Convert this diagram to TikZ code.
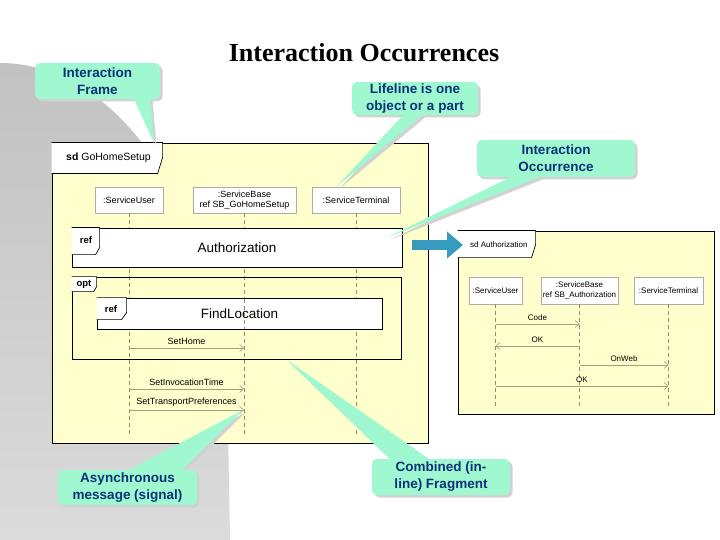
\documentclass[tikz,border=0pt]{standalone}
\usepackage{fontspec}
\setmainfont{Liberation Sans}
\newfontfamily\serifb{Liberation Serif}
\usetikzlibrary{arrows.meta,shadows}
\definecolor{mint}{RGB}{160,248,208}
\definecolor{navy}{RGB}{12,50,120}
\definecolor{umlyellow}{RGB}{255,255,206}
\definecolor{lifec}{RGB}{150,142,105}
\definecolor{msgc}{RGB}{160,160,130}
\definecolor{arrowblue}{RGB}{55,155,190}
\newcommand\ptrshadow[3]{\fill[gray!35] ([xshift=2.5pt,yshift=-2.5pt]#1) -- ([xshift=2.5pt,yshift=-2.5pt]#2) -- ([xshift=2.5pt,yshift=-2.5pt]#3) -- cycle;}
\newcommand\ptrfill[3]{\fill[mint] (#1) -- (#2) -- (#3) -- cycle;}
\tikzset{
  callout/.style={fill=mint, rounded corners=5pt, align=center, text=navy,
    font=\fontsize{13.5}{17}\selectfont\bfseries, inner sep=0pt,
    general shadow={fill=gray!35, shadow xshift=2.5pt, shadow yshift=-2.5pt}},
  umlframe/.style={draw=black, line width=0.8pt, fill=umlyellow, inner sep=0pt},
  refbox/.style={draw=black, line width=0.8pt, fill=white, inner sep=0pt,
    font=\fontsize{13.5}{16}\selectfont,
    general shadow={fill=black!70, shadow xshift=1.3pt, shadow yshift=-1.3pt}},
  optbox/.style={draw=black, line width=0.8pt, inner sep=0pt},
  tabshape/.style={draw=black, line width=0.7pt, fill=white},
  tablabel/.style={inner sep=0pt, font=\fontsize{9.5}{11}\selectfont\bfseries},
  lbox/.style={draw=gray!65, fill=white, line width=0.5pt, align=center,
    font=\fontsize{9}{10.5}\selectfont, inner sep=0pt},
  lboxs/.style={lbox, font=\fontsize{8}{9.5}\selectfont},
  lifeline/.style={draw=lifec, dash pattern=on 4pt off 3pt, line width=0.6pt},
  msg/.style={draw=msgc, line width=0.6pt, -{Straight Barb[length=4pt,width=7pt]}},
  msglabel/.style={inner sep=1.5pt, font=\fontsize{9}{10}\selectfont},
  msglabels/.style={inner sep=1.5pt, font=\fontsize{8}{9}\selectfont},
  bigarrow/.style={draw=arrowblue, line width=10pt, -{Triangle[length=16pt,width=26pt]}},
}
\begin{document}
\begin{tikzpicture}[x=1pt,y=-1pt]
\useasboundingbox (0,0) rectangle (720,540);
\fill[white] (0,0) rectangle (720,540);
% grey background shape
\shade[top color=gray!48, bottom color=gray!28]
  (0,63) .. controls (126,63) and (228,227) .. (228,430) -- (230,540) -- (0,540) -- cycle;

% title
\node[inner sep=0pt, font=\serifb\bfseries\fontsize{26}{30}\selectfont] (title) at (364,53) {Interaction Occurrences};

% ===== main frame sd GoHomeSetup =====
\node[umlframe, minimum width=376pt, minimum height=300pt,
  general shadow={fill=black!70, shadow xshift=1.3pt, shadow yshift=-1.3pt}] (main) at (240,293) {};
\draw[tabshape] (main.north west) -- ++(111,0) -- ++(0,15) -- ++(-5,16) -- ++(-106,0);
\node[anchor=west, inner sep=0pt, font=\fontsize{10.5}{12}\selectfont] (maintab) at (66,158) {\textbf{sd} GoHomeSetup};

% lifeline heads
\node[lbox, minimum width=68pt, minimum height=26pt] (su) at (129,200) {:ServiceUser};
\node[lbox, minimum width=103pt, minimum height=26pt] (sb) at (244.5,200) {:ServiceBase\\ref SB\_GoHomeSetup};
\node[lbox, minimum width=88pt, minimum height=26pt] (st) at (356,200) {:ServiceTerminal};

\coordinate (suend) at (129,435);
\coordinate (sbend) at (244,435);
\coordinate (stend) at (356,435);
\draw[lifeline] (su.south) -- (suend);
\draw[lifeline] ([xshift=-0.5pt]sb.south) -- (sbend);
\draw[lifeline] (st.south) -- (stend);

% ref Authorization
\node[refbox, minimum width=330pt, minimum height=39pt] (authref) at (237,247.5) {Authorization};
\draw[tabshape] (authref.north west) -- ++(28,0) -- ++(0,20) -- ++(-4,7) -- ++(-24,0);
\node[tablabel] (authtab) at (86,240) {ref};

% opt fragment
\node[optbox, minimum width=329pt, minimum height=82pt] (optf) at (236.5,318) {};
\draw[tabshape] (optf.north west) -- ++(25,0) -- ++(0,10) -- ++(-3,5) -- ++(-22,0);
\node[tablabel] (opttab) at (84,284.5) {opt};

% ref FindLocation
\node[refbox, minimum width=285pt, minimum height=31pt] (findref) at (239.5,313.5) {FindLocation};
\draw[tabshape] (findref.north west) -- ++(30,0) -- ++(0,15) -- ++(-5,7) -- ++(-25,0);
\node[tablabel] (findtab) at (111,309) {ref};
\draw[lifeline] (244,298.5) -- (244,328.5);

% messages
\draw[msg] (129,348) -- node[msglabel, above=2pt] {SetHome} (244,348);
\draw[msg] (129,389) -- node[msglabel, above=2pt] {SetInvocationTime} (244,389);
\draw[msg] (129,410) -- node[msglabel, above=2pt] {SetTransportPreferences} (244,410);

% ===== right frame sd Authorization =====
\node[umlframe, minimum width=256pt, minimum height=183pt] (rf) at (586,322.5) {};
\draw[tabshape] (rf.north west) -- ++(78,0) -- ++(0,14) -- ++(-4,13) -- ++(-74,0);
\node[anchor=west, inner sep=0pt, font=\fontsize{8}{10}\selectfont] (rftab) at (470,245) {sd Authorization};

\node[lboxs, minimum width=53pt, minimum height=27pt] (su2) at (495.5,290.5) {:ServiceUser};
\node[lboxs, minimum width=77pt, minimum height=27pt] (sb2) at (579.5,290.5) {:ServiceBase\\ref SB\_Authorization};
\node[lboxs, minimum width=69pt, minimum height=27pt] (st2) at (668.5,290.5) {:ServiceTerminal};
\coordinate (su2end) at (495.5,408);
\coordinate (sb2end) at (579.5,408);
\coordinate (st2end) at (668.5,408);
\draw[lifeline] (su2.south) -- (su2end);
\draw[lifeline] (sb2.south) -- (sb2end);
\draw[lifeline] (st2.south) -- (st2end);

\draw[msg] (495.5,324) -- node[msglabels, above=2pt] {Code} (579.5,324);
\draw[msg] (579.5,346) -- node[msglabels, above=2pt] {OK} (495.5,346);
\draw[msg] (579.5,365) -- node[msglabels, above=2pt] {OnWeb} (668.5,365);
\draw[msg] (495.5,386) -- node[msglabels, above=2pt] {OK} (668.5,386);

% big blue arrow
\coordinate (ba) at (412,245);
\coordinate (bt) at (463,245);
\draw[bigarrow] (ba) -- (bt);

% ===== callouts =====
\coordinate (t1) at (154,143); \coordinate (a1) at (133,97); \coordinate (b1) at (150,97);
\coordinate (t2) at (336,187); \coordinate (a2) at (405,113); \coordinate (b2) at (425,113);
\coordinate (t3) at (386,238); \coordinate (a3) at (515,175); \coordinate (b3) at (545,175);
\coordinate (t4) at (243,410); \coordinate (a4) at (125,472); \coordinate (b4) at (180,472);
\coordinate (t5) at (287,360); \coordinate (a5) at (392,461); \coordinate (b5) at (432,461);

\ptrshadow{t1}{a1}{b1}
\ptrshadow{t2}{a2}{b2}
\ptrshadow{t3}{a3}{b3}
\ptrshadow{t4}{a4}{b4}
\ptrshadow{t5}{a5}{b5}

\node[callout, minimum width=125pt, minimum height=36pt] (c1) at (97.5,81) {Interaction\\Frame};
\node[callout, minimum width=126pt, minimum height=33pt] (c2) at (415,98.5) {Lifeline is one\\object or a part};
\node[callout, minimum width=158pt, minimum height=37pt] (c3) at (556,158.5) {Interaction\\Occurrence};
\node[callout, minimum width=139pt, minimum height=35pt] (c4) at (127.5,487.5) {Asynchronous\\message (signal)};
\node[callout, minimum width=138pt, minimum height=36pt] (c5) at (441,477) {Combined (in-\\line) Fragment};

\ptrfill{t1}{a1}{b1}
\ptrfill{t2}{a2}{b2}
\ptrfill{t3}{a3}{b3}
\ptrfill{t4}{a4}{b4}
\ptrfill{t5}{a5}{b5}
\end{tikzpicture}
\end{document}
